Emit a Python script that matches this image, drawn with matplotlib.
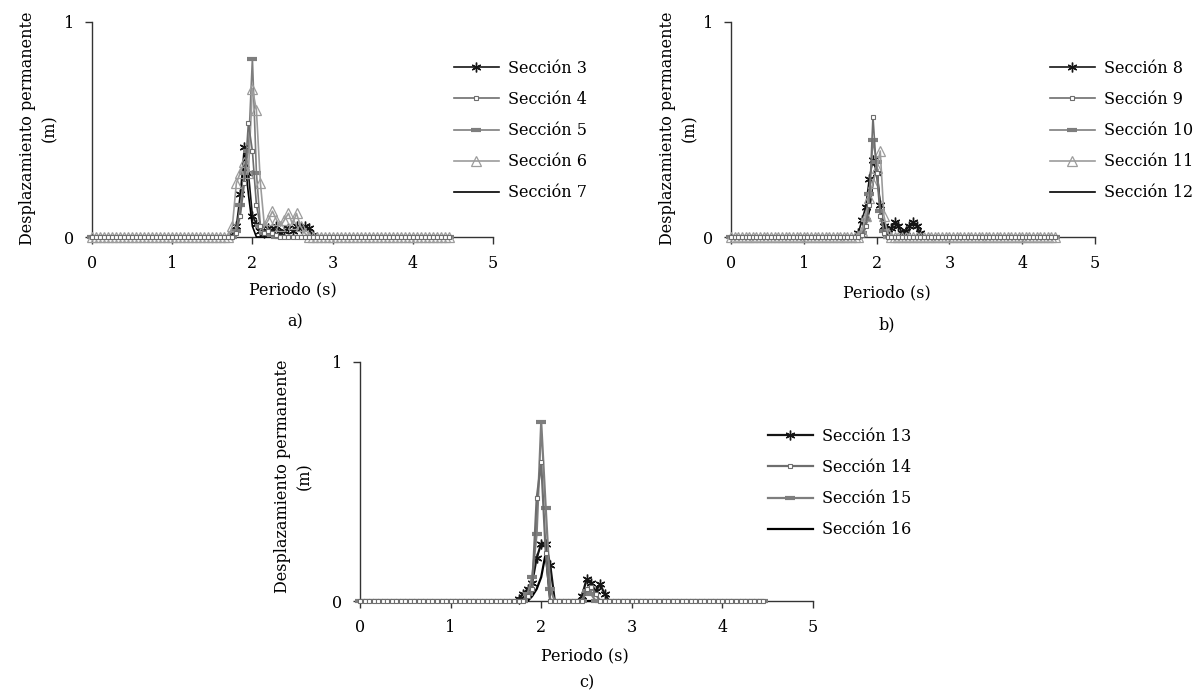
import numpy as np
import matplotlib.pyplot as plt

plt.rcParams['font.family'] = ['DejaVu Serif']
plt.rcParams['font.size'] = 11.5

# periodos del espectro (s)
periodos = np.round(np.arange(0, 4.451, 0.05), 2)
# ventana donde los desplazamientos no son nulos
t_pico = [1.70, 1.75, 1.80, 1.85, 1.90, 1.95, 2.00, 2.05, 2.10, 2.15, 2.20, 2.25,
          2.30, 2.35, 2.40, 2.45, 2.50, 2.55, 2.60, 2.65, 2.70, 2.75, 2.80]

# a) secciones 3 a 7
sec3 = [0, 0.01, 0.05, 0.20, 0.42, 0.30, 0.10, 0.06, 0.03, 0.02, 0.04, 0.03,
        0.05, 0.02, 0.03, 0.04, 0.03, 0.05, 0.04, 0.05, 0.04, 0.01, 0]
sec4 = [0, 0, 0.02, 0.10, 0.25, 0.53, 0.40, 0.15, 0.05, 0.02, 0.03, 0.02,
        0.01, 0, 0, 0, 0, 0, 0, 0, 0, 0, 0]
sec5 = [0, 0, 0.03, 0.15, 0.30, 0.40, 0.83, 0.30, 0.05, 0.02, 0.02, 0.01,
        0, 0, 0, 0, 0, 0, 0, 0, 0, 0, 0]
sec6 = [0, 0.05, 0.25, 0.30, 0.35, 0.30, 0.69, 0.59, 0.25, 0.05, 0.08, 0.12,
        0.08, 0.05, 0.08, 0.11, 0.06, 0.11, 0.05, 0.02, 0, 0, 0]
sec7 = [0, 0, 0.02, 0.15, 0.38, 0.20, 0.05, 0, 0, 0, 0, 0,
        0, 0, 0, 0, 0, 0, 0, 0, 0, 0, 0]

# b) secciones 8 a 12
sec8 = [0, 0.02, 0.08, 0.14, 0.27, 0.36, 0.30, 0.15, 0.05, 0.02, 0.04, 0.07,
        0.05, 0.02, 0.03, 0.05, 0.07, 0.05, 0.02, 0, 0, 0, 0]
sec9 = [0, 0, 0.01, 0.05, 0.15, 0.56, 0.30, 0.10, 0.02, 0, 0, 0,
        0, 0, 0, 0, 0, 0, 0, 0, 0, 0, 0]
sec10 = [0, 0, 0.02, 0.08, 0.20, 0.45, 0.35, 0.12, 0.03, 0, 0, 0,
         0, 0, 0, 0, 0, 0, 0, 0, 0, 0, 0]
sec11 = [0, 0, 0.03, 0.10, 0.18, 0.25, 0.32, 0.40, 0.10, 0.02, 0, 0,
         0, 0, 0, 0, 0, 0, 0, 0, 0, 0, 0]
sec12 = [0, 0, 0, 0.05, 0.12, 0.25, 0.33, 0.15, 0.02, 0, 0, 0,
         0, 0, 0, 0, 0, 0, 0, 0, 0, 0, 0]

# c) secciones 13 a 16
sec13 = [0, 0.01, 0.03, 0.05, 0.075, 0.18, 0.24, 0.24, 0.15, 0, 0, 0,
         0, 0, 0, 0.02, 0.09, 0.075, 0.04, 0.07, 0.03, 0, 0]
sec14 = [0, 0, 0, 0.02, 0.05, 0.43, 0.58, 0.20, 0, 0, 0, 0,
         0, 0, 0, 0, 0.05, 0.06, 0.03, 0, 0, 0, 0]
sec15 = [0, 0, 0, 0.03, 0.10, 0.28, 0.75, 0.39, 0.05, 0, 0, 0,
         0, 0, 0, 0, 0.04, 0.03, 0, 0, 0, 0, 0]
sec16 = [0, 0, 0, 0, 0.02, 0.05, 0.10, 0.20, 0, 0, 0, 0,
         0, 0, 0, 0, 0, 0, 0, 0, 0, 0, 0]

estilos = {
    'ast': dict(color='#151515', marker=(6, 2, 0), ms=7, mew=1.0),
    'cua': dict(color='#6e6e6e', marker='s', ms=3, mfc='white', mew=0.8),
    'gui': dict(color='#7e7e7e', marker='_', ms=7, mew=3),
    'tri': dict(color='#9c9c9c', marker='^', ms=7, mfc='none', mew=0.9),
    'lin': dict(color='#000000'),
}
orden = {'ast': 2, 'lin': 3, 'gui': 4, 'tri': 5, 'cua': 6}


def serie(vals):
    y = np.zeros(len(periodos))
    i0 = int(np.argmin(np.abs(periodos - t_pico[0])))
    y[i0:i0 + len(vals)] = vals
    return y


def panel(fig, rect, datos, letra, leg_xy, xlab_xy, letra_xy, ylab_xy, lw):
    ax = fig.add_axes(rect)
    for nombre, vals, est in datos:
        y = serie(vals)
        extra = {}
        if est == 'ast':
            extra['markevery'] = list(y > 0)
        ax.plot(periodos, y, label=nombre, clip_on=False, zorder=orden[est], lw=lw,
                **estilos[est], **extra)
    ax.set_xlim(0, 5)
    ax.set_ylim(0, 1)
    ax.set_xticks([0, 1, 2, 3, 4, 5])
    ax.set_yticks([0, 1])
    ax.spines['top'].set_visible(False)
    ax.spines['right'].set_visible(False)
    for s in ['left', 'bottom']:
        ax.spines[s].set_color('#333333')
        ax.spines[s].set_linewidth(1.0)
    ax.tick_params(direction='out', length=5, width=1, colors='#333333', labelcolor='black',
                   labelsize=11.5, pad=8)
    W, H = 1197, 694
    fig.text(xlab_xy[0] / W, 1 - xlab_xy[1] / H, 'Periodo (s)', ha='center', va='center')
    fig.text(letra_xy[0] / W, 1 - letra_xy[1] / H, letra, ha='center', va='center')
    fig.text(ylab_xy[0] / W, 1 - ylab_xy[1] / H, 'Desplazamiento permanente\n(m)',
             ha='center', va='center', rotation=90, multialignment='center',
             linespacing=1.4)
    leg = ax.legend(loc='upper left', bbox_to_anchor=(leg_xy[0] / W, 1 - leg_xy[1] / H),
                    bbox_transform=fig.transFigure, frameon=False, borderpad=0, borderaxespad=0,
                    handlelength=2.8, handletextpad=0.6, labelspacing=0.88)
    for h in leg.legend_handles:
        h.set_markevery([1])
    return ax


fig = plt.figure(figsize=(11.97, 6.94), dpi=100)

panel(fig, [92 / 1197, 1 - 237 / 694, 401 / 1197, 215 / 694],
      [('Sección 3', sec3, 'ast'), ('Sección 4', sec4, 'cua'), ('Sección 5', sec5, 'gui'),
       ('Sección 6', sec6, 'tri'), ('Sección 7', sec7, 'lin')],
      'a)', (454, 60), (293, 290), (295, 322), (39, 128), 1.2)

panel(fig, [731 / 1197, 1 - 237 / 694, 364 / 1197, 215 / 694],
      [('Sección 8', sec8, 'ast'), ('Sección 9', sec9, 'cua'), ('Sección 10', sec10, 'gui'),
       ('Sección 11', sec11, 'tri'), ('Sección 12', sec12, 'lin')],
      'b)', (1050, 60), (887, 293), (887, 325), (679, 128), 1.2)

panel(fig, [360 / 1197, 1 - 601 / 694, 453 / 1197, 239 / 694],
      [('Sección 13', sec13, 'ast'), ('Sección 14', sec14, 'cua'), ('Sección 15', sec15, 'gui'),
       ('Sección 16', sec16, 'lin')],
      'c)', (768, 428), (585, 656), (587, 683), (294, 476), 1.6)

fig.savefig('out.png', dpi=100)
